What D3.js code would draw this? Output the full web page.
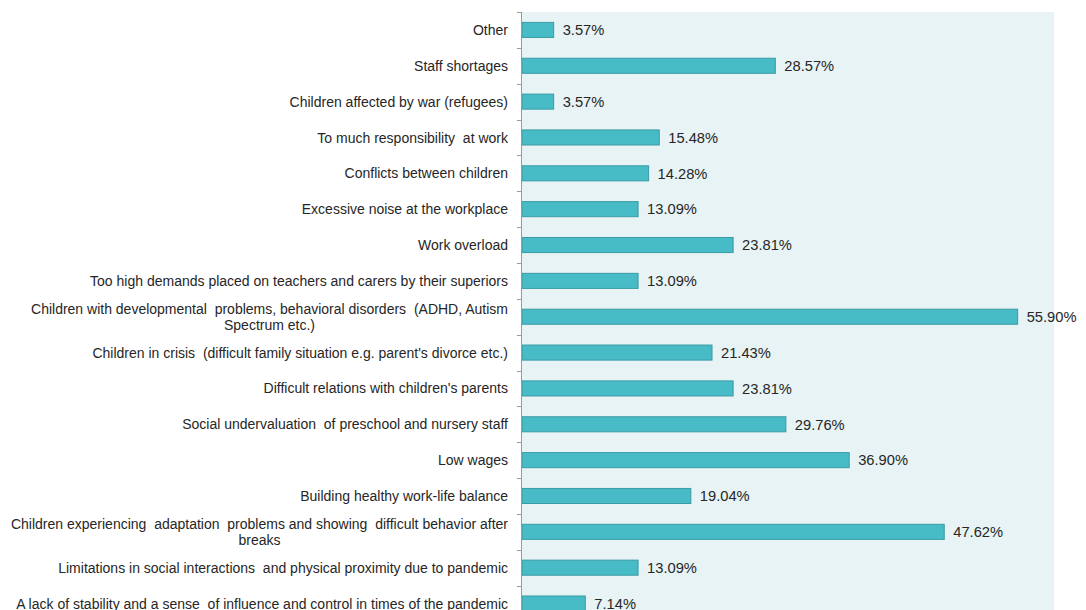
<!DOCTYPE html>
<html>
<head>
<meta charset="utf-8">
<script src="https://cdn.jsdelivr.net/npm/d3@7"></script>
<style>
  body { margin: 0; background: #fff; }
  text { font-family: "Liberation Sans", Arial, sans-serif; fill: #262626; }
</style>
</head>
<body>
<div id="chart"></div>
<script>
// categories, top to bottom ("\n" = line break in the label)
let categories = [
    "Other",
    "Staff shortages",
    "Children affected by war (refugees)",
    "To much responsibility  at work",
    "Conflicts between children",
    "Excessive noise at the workplace",
    "Work overload",
    "Too high demands placed on teachers and carers by their superiors",
    "Children with developmental  problems, behavioral disorders  (ADHD, Autism\nSpectrum etc.)",
    "Children in crisis  (difficult family situation e.g. parent's divorce etc.)",
    "Difficult relations with children's parents",
    "Social undervaluation  of preschool and nursery staff",
    "Low wages",
    "Building healthy work-life balance",
    "Children experiencing  adaptation  problems and showing  difficult behavior after\nbreaks",
    "Limitations in social interactions  and physical proximity due to pandemic",
    "A lack of stability and a sense  of influence and control in times of the pandemic"
];
let values = [3.57, 28.57, 3.57, 15.48, 14.28, 13.09, 23.81, 13.09, 55.90, 21.43, 23.81, 29.76, 36.90, 19.04, 47.62, 13.09, 7.14];

let barFill = "#47BBC6";
let barStroke = "#3A9BA4";
let panelFill = "#E7F3F4";

let width = 1086, height = 610;
let plotLeft = 521, plotRight = 1054, plotTop = 12;
let step = 35.85;

let svg = d3.select("#chart").append("svg")
    .attr("width", width)
    .attr("height", height);

let data = categories.map((c, i) => ({cat: c, value: values[i]}));

let xScale = d3.scaleLinear()
    .domain([0, 60])
    .range([plotLeft + 1, plotRight]);

let yScale = d3.scaleBand()
    .domain(categories)
    .range([plotTop, plotTop + step * categories.length])
    .paddingInner(0.58)
    .paddingOuter(0.29);

// plot area background
svg.append("rect")
    .attr("x", plotLeft)
    .attr("y", plotTop)
    .attr("width", plotRight - plotLeft)
    .attr("height", step * categories.length)
    .attr("fill", panelFill);

// bars
svg.selectAll("rect.bar")
    .data(data)
    .enter()
    .append("rect")
    .attr("class", "bar")
    .attr("x", xScale(0))
    .attr("y", d => yScale(d.cat))
    .attr("width", d => xScale(d.value) - xScale(0))
    .attr("height", yScale.bandwidth())
    .attr("fill", barFill)
    .attr("stroke", barStroke)
    .attr("stroke-width", 1);

// value labels
svg.selectAll("text.val")
    .data(data)
    .enter()
    .append("text")
    .attr("class", "val")
    .attr("x", d => xScale(d.value) + 9)
    .attr("y", d => yScale(d.cat) + yScale.bandwidth() / 2)
    .attr("dy", "0.36em")
    .style("font-size", "14.7px")
    .text(d => d.value.toFixed(2) + "%");

// axis line + ticks at band boundaries
let axis = svg.append("g").attr("stroke", "#9a9a9a").attr("stroke-width", 1);
axis.append("line")
    .attr("x1", plotLeft + 0.5).attr("x2", plotLeft + 0.5)
    .attr("y1", plotTop).attr("y2", plotTop + step * categories.length);
axis.selectAll("line.tick")
    .data(d3.range(categories.length + 1))
    .enter()
    .append("line")
    .attr("class", "tick")
    .attr("x1", plotLeft - 4).attr("x2", plotLeft + 0.5)
    .attr("y1", i => Math.round(plotTop + i * step) + 0.5)
    .attr("y2", i => Math.round(plotTop + i * step) + 0.5);

// category labels
let labelRight = 508;
let labels = svg.selectAll("g.lab")
    .data(data)
    .enter()
    .append("g")
    .attr("class", "lab");

labels.each(function(d) {
    let g = d3.select(this);
    let lines = d.cat.split("\n");
    let cy = yScale(d.cat) + yScale.bandwidth() / 2;
    if (lines.length === 1) {
        g.append("text")
            .attr("x", labelRight)
            .attr("y", cy)
            .attr("dy", "0.36em")
            .attr("text-anchor", "end")
            .style("font-size", "14px")
            .style("white-space", "pre")
            .text(lines[0]);
    } else {
        let t1 = g.append("text")
            .attr("x", labelRight)
            .attr("y", cy - 8)
            .attr("dy", "0.36em")
            .attr("text-anchor", "end")
            .style("font-size", "14px")
            .style("white-space", "pre")
            .text(lines[0]);
        let w = t1.node().getComputedTextLength();
        g.append("text")
            .attr("x", labelRight - w / 2)
            .attr("y", cy + 8)
            .attr("dy", "0.36em")
            .attr("text-anchor", "middle")
            .style("font-size", "14px")
            .style("white-space", "pre")
            .text(lines[1]);
    }
});
</script>
</body>
</html>
